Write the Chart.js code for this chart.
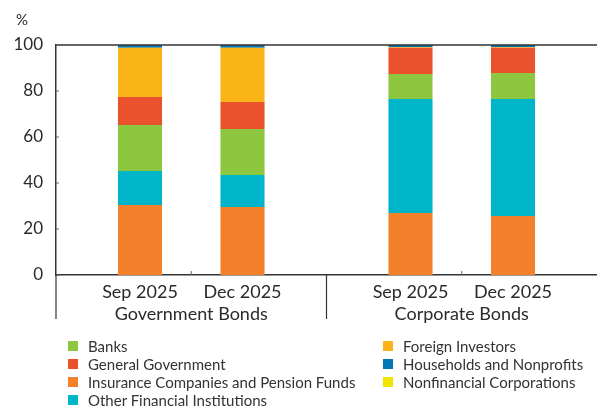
<!DOCTYPE html>
<html>
<head>
<meta charset="utf-8">
<script src="https://cdn.jsdelivr.net/npm/chart.js@4"></script>
<style>
    body { margin: 0; background: #fff; }
    #wrap { position: relative; width: 597px; height: 406px; }
    #legend {
        position: absolute; left: 68px; top: 337px;
        display: grid; grid-template-columns: 315px auto;
        grid-auto-rows: 18px;
        font: 15px Lato, sans-serif; color: #333;
    }
    #legend div { display: flex; align-items: center; white-space: nowrap; }
    #legend span { display: inline-block; width: 10px; height: 10px; margin-right: 10px; }
</style>
</head>
<body>
<div id="wrap">
    <canvas id="chart" width="597" height="406"></canvas>
    <div id="legend"></div>
</div>
<script>
const groups = ["Government Bonds", "Corporate Bonds"];
const periods = ["Sep 2025", "Dec 2025"];

// values per bar: [gov Sep, gov Dec, corp Sep, corp Dec]
const insurance = [30.4, 29.6, 27.0, 25.7];
const otherFinancial = [14.8, 13.9, 49.5, 50.8];
const banks = [20.0, 20.0, 10.9, 11.3];
const generalGovernment = [12.2, 11.7, 11.4, 11.0];
const foreignInvestors = [21.4, 23.6, 0.3, 0.3];
const nonfinancial = [0, 0, 0, 0];
const households = [1.2, 1.2, 0.9, 0.9];

const yTicks = [0, 20, 40, 60, 80, 100];

// bottom to top
const sectors = [
    { label: "Insurance Companies and Pension Funds", values: insurance, color: "#F3812C" },
    { label: "Other Financial Institutions", values: otherFinancial, color: "#00B4CA" },
    { label: "Banks", values: banks, color: "#8DC63F" },
    { label: "General Government", values: generalGovernment, color: "#E9522C" },
    { label: "Foreign Investors", values: foreignInvestors, color: "#FAB418" },
    { label: "Nonfinancial Corporations", values: nonfinancial, color: "#F0E500" },
    { label: "Households and Nonprofits", values: households, color: "#0079B4" },
];

const legendOrder = [
    "Banks", "Foreign Investors",
    "General Government", "Households and Nonprofits",
    "Insurance Companies and Pension Funds", "Nonfinancial Corporations",
    "Other Financial Institutions",
];

const datasets = [];
periods.forEach((period, p) => {
    sectors.forEach((s) => {
        datasets.push({
            label: s.label,
            stack: period,
            data: groups.map((g, gi) => s.values[gi * periods.length + p]),
            backgroundColor: s.color,
            borderWidth: 0,
            categoryPercentage: 0.758,
            barPercentage: 0.43,
        });
    });
});

const axisColor = "#333";
const labelFont = "18px Lato, sans-serif";

const decorations = {
    id: "decorations",
    afterDraw(chart) {
        const { ctx, chartArea, scales } = chart;
        const x = scales.x;
        const y = scales.y;
        ctx.save();
        ctx.strokeStyle = axisColor;
        ctx.lineWidth = 1.5;
        // top border
        ctx.beginPath();
        ctx.moveTo(chartArea.left, chartArea.top);
        ctx.lineTo(chartArea.right, chartArea.top);
        ctx.stroke();
        // group separators below axis
        ctx.lineWidth = 1.2;
        const half = (x.getPixelForValue(1) - x.getPixelForValue(0)) / 2;
        [chartArea.left, x.getPixelForValue(0) + half].forEach((px) => {
            ctx.beginPath();
            ctx.moveTo(px, chartArea.bottom);
            ctx.lineTo(px, chartArea.bottom + 44);
            ctx.stroke();
        });
        // small ticks at group centers
        ctx.lineWidth = 1;
        ctx.strokeStyle = "#666";
        groups.forEach((g, gi) => {
            const px = x.getPixelForValue(gi);
            ctx.beginPath();
            ctx.moveTo(px, chartArea.bottom);
            ctx.lineTo(px, chartArea.bottom - 4);
            ctx.stroke();
        });
        // inward y ticks
        yTicks.forEach((v) => {
            const py = y.getPixelForValue(v);
            ctx.beginPath();
            ctx.moveTo(chartArea.left, py);
            ctx.lineTo(chartArea.left + 3, py);
            ctx.stroke();
        });
        // labels
        ctx.fillStyle = "#2a2a2a";
        ctx.font = labelFont;
        ctx.textAlign = "center";
        ctx.textBaseline = "middle";
        periods.forEach((period, p) => {
            const meta = chart.getDatasetMeta(p * sectors.length);
            meta.data.forEach((bar) => {
                ctx.fillText(period, bar.x, chartArea.bottom + 17);
            });
        });
        groups.forEach((g, gi) => {
            ctx.fillText(g, x.getPixelForValue(gi), chartArea.bottom + 39);
        });
        ctx.font = "15px Lato, sans-serif";
        ctx.fillText("%", 22, 20);
        ctx.restore();
    },
};

new Chart(document.getElementById("chart"), {
    type: "bar",
    data: { labels: groups, datasets: datasets },
    options: {
        responsive: false,
        animation: false,
        layout: { padding: { top: 45, right: 0, left: 0, bottom: 0 } },
        scales: {
            x: {
                stacked: true,
                grid: { display: false },
                ticks: { display: false },
                border: { color: axisColor, width: 1.5 },
                afterFit: (scale) => { scale.height = 131; },
            },
            y: {
                stacked: true,
                min: 0,
                max: 100,
                afterBuildTicks: (scale) => { scale.ticks = yTicks.map((v) => ({ value: v })); },
                grid: { display: false },
                border: { color: axisColor, width: 1.5 },
                ticks: { color: "#2a2a2a", font: { family: "Lato, sans-serif", size: 17 }, padding: 5 },
                afterFit: (scale) => { scale.width = 56; },
            },
        },
        plugins: {
            legend: { display: false },
            tooltip: { enabled: false },
        },
    },
    plugins: [decorations],
});

const legendEl = document.getElementById("legend");
legendOrder.forEach((name) => {
    const s = sectors.find((item) => item.label === name);
    const row = document.createElement("div");
    row.innerHTML = `<span style="background:${s.color}"></span>${s.label}`;
    legendEl.appendChild(row);
});
</script>
</body>
</html>
